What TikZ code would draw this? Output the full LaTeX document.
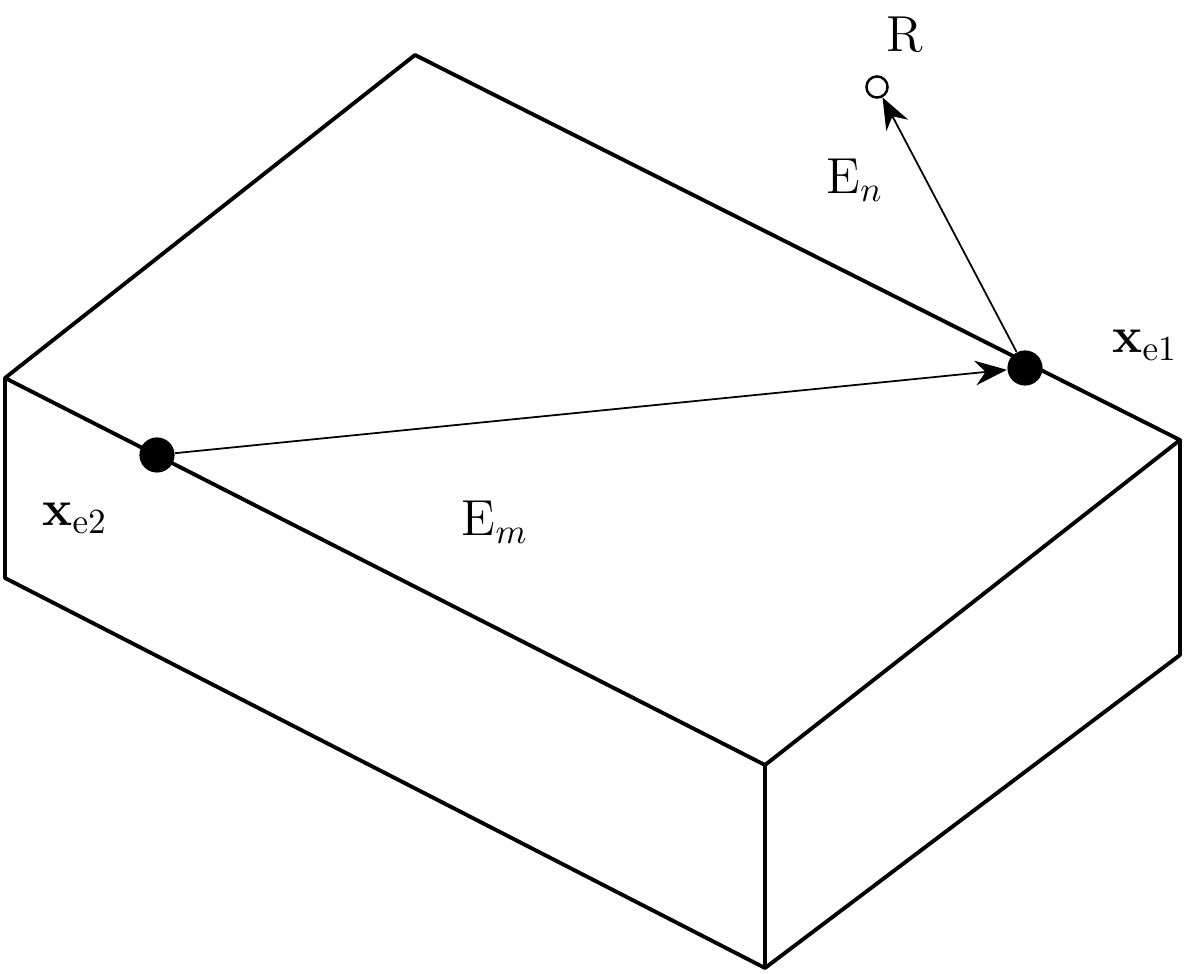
\documentclass[tikz,border=0pt]{standalone}
\usetikzlibrary{arrows.meta}
\begin{document}
\begin{tikzpicture}[
        x=0.01cm,y=-0.01cm,
        edge/.style={line width=1.1pt,line join=round},
        vec/.style={line width=0.5pt,-{Stealth[length=9pt,width=7pt]}},
        pt/.style={circle,fill=black,inner sep=0pt,minimum size=10pt},
        obs/.style={circle,draw,line width=0.7pt,fill=white,inner sep=0pt,minimum size=6pt},
        lab/.style={font=\Large},
        ]
    \useasboundingbox (0,0) rectangle (1200,974);
    % corners of the block
    \coordinate (a) at (415,55);
    \coordinate (b) at (1180,440);
    \coordinate (c) at (765,765);
    \coordinate (d) at (5,378);
    \coordinate (bb) at (1180,655);
    \coordinate (cc) at (765,968);
    \coordinate (dd) at (5,578);
    \draw[edge] (a) -- (b) -- (c) -- (d) -- cycle;
    \draw[edge] (d) -- (dd) -- (cc) -- (bb) -- (b);
    \draw[edge] (c) -- (cc);
    % points
    \node (e1) [pt] at (1025,368) {};
    \node (e2) [pt] at (157,455) {};
    \node (r) [obs] at (877,87) {};
    \draw[vec] (e2) -- (e1);
    \draw[vec] (e1) -- (r);
    \node [lab] at (905,35) {R};
    \node [lab] at (855,180) {E$_n$};
    \node [lab] at (1145,345) {$\mathbf{x}_{\mathrm{e1}}$};
    \node [lab] at (75,518) {$\mathbf{x}_{\mathrm{e2}}$};
    \node [lab] at (495,522) {E$_m$};
\end{tikzpicture}
\end{document}
